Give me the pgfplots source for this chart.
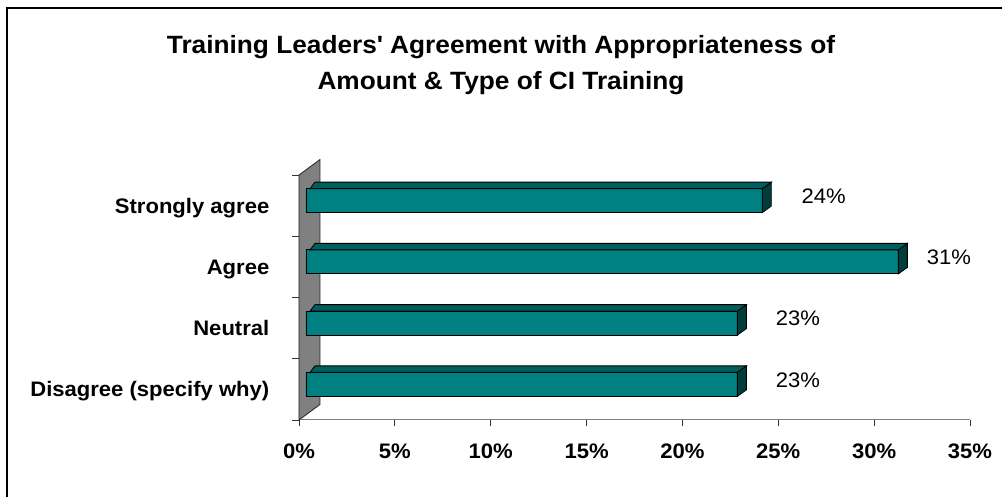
\documentclass[border=0pt]{standalone}
\usepackage{fontspec}
\setmainfont{Liberation Sans}[FakeStretch=1.05]
\usepackage{pgfplots}
\usepackage{pgfplotstable}
\pgfplotsset{compat=1.18}
\definecolor{frontc}{HTML}{008080}
\definecolor{topc}{HTML}{005E5E}
\definecolor{endc}{HTML}{003E3E}
\definecolor{wallc}{HTML}{808080}
\pgfplotstableread{
y v lab off
0 22.5 23 38
1 22.5 23 38
2 30.9 31 28
3 23.8 24 39
}\data
\begin{document}
\begin{tikzpicture}[x=1pt,y=1pt]
\useasboundingbox (0,0) rectangle (1002,497);
\fill[white] (0,0) rectangle (1002,497);
\draw[line width=2pt] (7,489) rectangle (1030,-30);
\node[anchor=base, inner sep=0pt, font=\fontsize{25}{30}\selectfont\bfseries] at (501,443) {Training Leaders\textquotesingle\ Agreement with Appropriateness of};
\node[anchor=base, inner sep=0pt, font=\fontsize{25}{30}\selectfont\bfseries] at (501,407) {Amount \& Type of CI Training};
\begin{axis}[
  at={(299pt,77pt)}, anchor=south west, scale only axis,
  width=671pt, height=245pt,
  xmin=0, xmax=35, ymin=-0.5, ymax=3.5, clip=false,
  axis x line*=bottom, axis y line*=left,
  x axis line style={draw=black!50, line width=1pt, -},
  y axis line style={draw=black, line width=0.8pt, -},
  tick align=outside, major tick length=6.5pt,
  xtick={0,5,...,35},
  xticklabels={0\%,5\%,10\%,15\%,20\%,25\%,30\%,35\%},
  ytick={-0.5,0.5,1.5,2.5,3.5},
  yticklabels={Disagree (specify why),Neutral,Agree,Strongly agree,{}},
  x tick style={draw=black!80, line width=0.8pt},
  y tick style={draw=black!80, line width=0.8pt},
  xticklabel style={anchor=base, inner sep=0pt, yshift=-32pt, font=\fontsize{21}{25}\selectfont\bfseries},
  yticklabel style={anchor=base east, inner sep=0pt, xshift=-23pt, yshift=23.1pt, font=\fontsize{21}{25}\selectfont\bfseries},
]
% side wall
\addplot[fill=wallc, draw=black!85, line width=0.8pt] coordinates {(0,-0.5) (0,3.5) (1.095,3.753) (1.095,-0.247)} -- cycle;
% depth faces of the bars
\addplot[scatter, only marks, mark=*, mark size=0pt, xshift=7pt, yshift=5pt,
  visualization depends on={\thisrow{v} \as \val},
  scatter/@pre marker code/.code={%
    \filldraw[fill=endc, draw=black, line width=0.8pt] (0pt,-12pt) -- (0pt,12pt) -- ++(9pt,6.5pt) -- ++(0pt,-24pt) -- cycle;
    \filldraw[fill=topc, draw=black, line width=0.8pt] (0pt,12pt) -- ++(9pt,6.5pt) -- ++(axis direction cs:-\val,0) -- ++(-5pt,-6.5pt) -- cycle;
    \begin{scope}},
  scatter/@post marker code/.code={\end{scope}},
] table[x=v,y=y] {\data};
% front faces
\addplot[xbar, bar width=24pt, bar shift=0pt, fill=frontc, draw=black, line width=0.8pt,
  xshift=7pt, yshift=5pt,
  point meta=explicit symbolic,
  visualization depends on={\thisrow{off} \as \off},
  nodes near coords={\pgfplotspointmeta\%},
  every node near coord/.append style={anchor=west, inner sep=0pt, xshift=\off pt, yshift=4.5pt, font=\fontsize{21}{25}\selectfont},
] table[x=v,y=y,meta=lab] {\data};
\end{axis}
\end{tikzpicture}
\end{document}
